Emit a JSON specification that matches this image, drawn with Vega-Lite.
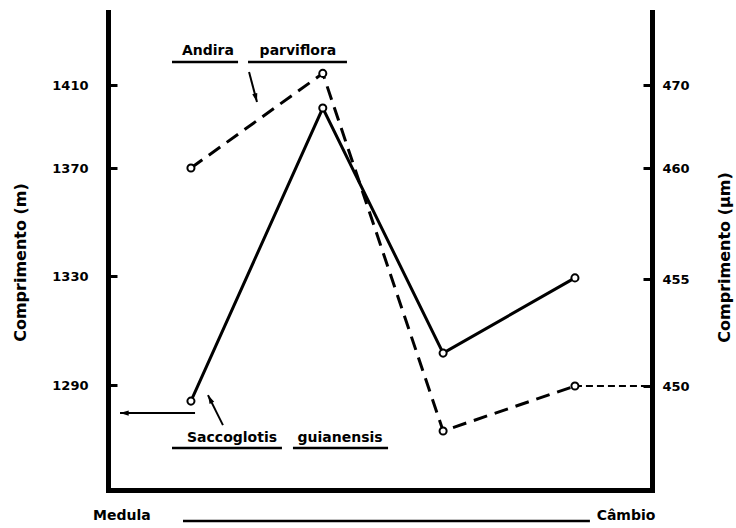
{
  "$schema": "https://vega.github.io/schema/vega-lite/v6.json",
  "width": 544,
  "height": 478,
  "autosize": {"type": "none"},
  "padding": {"left": 108, "top": 12, "right": 84, "bottom": 38},
  "background": "white",
  "config": {
    "view": {"stroke": null},
    "font": "DejaVu Sans",
    "axis": {
      "domainColor": "black", "domainWidth": 5, "domainCap": "square",
      "tickColor": "black", "tickWidth": 3, "grid": false,
      "labelFont": "DejaVu Sans", "labelFontWeight": "bold", "labelFontSize": 13, "labelColor": "black",
      "titleFont": "DejaVu Sans", "titleFontWeight": "bold", "titleFontSize": 16, "titleColor": "black"
    },
    "text": {"font": "DejaVu Sans", "fontWeight": "bold", "fontSize": 14, "color": "black"}
  },
  "datasets": {
    "saccoglotis": [
      {"posicao": 1, "valor": 1284.1},
      {"posicao": 2.03, "valor": 1398.9},
      {"posicao": 2.97, "valor": 1301.7},
      {"posicao": 4, "valor": 1329.3}
    ],
    "andira": [
      {"posicao": 1, "valor": 460},
      {"posicao": 2.03, "valor": 471.4},
      {"posicao": 2.97, "valor": 447.9},
      {"posicao": 4, "valor": 450}
    ],
    "rotulos": [
      {"texto": "Andira", "posicao": 1.133, "valor": 1426.4},
      {"texto": "parviflora", "posicao": 1.836, "valor": 1426.4},
      {"texto": "Saccoglotis", "posicao": 1.321, "valor": 1270.6},
      {"texto": "guianensis", "posicao": 2.165, "valor": 1270.6},
      {"texto": "Medula", "posicao": 0.46, "valor": 1242},
      {"texto": "Câmbio", "posicao": 4.399, "valor": 1242}
    ],
    "sublinhados": [
      {"posicao": 0.852, "posicao2": 1.368, "valor": 1421.1},
      {"posicao": 1.446, "posicao2": 2.219, "valor": 1421.1},
      {"posicao": 0.852, "posicao2": 1.711, "valor": 1266.9},
      {"posicao": 1.797, "posicao2": 2.54, "valor": 1266.9},
      {"posicao": 0.938, "posicao2": 4.117, "valor": 1240.1}
    ],
    "setas": [
      {"seta": "andira", "posicao": 1.454, "valor": 1416.3, "posicao2": 1.516, "valor2": 1401.8},
      {"seta": "saccoglotis", "posicao": 1.25, "valor": 1275.3, "posicao2": 1.133, "valor2": 1286.3},
      {"seta": "eixo", "posicao": 1.032, "valor": 1279.7, "posicao2": 0.446, "valor2": 1279.7}
    ],
    "extensao": [
      {"posicao": 4, "posicao2": 4.602, "valor": 450}
    ]
  },
  "layer": [
    {
      "layer": [
        {
          "data": {"name": "saccoglotis"},
          "mark": {"type": "line", "color": "black", "strokeWidth": 3,
            "point": {"filled": false, "fill": "white", "stroke": "black", "strokeWidth": 2, "size": 50, "opacity": 1}},
          "encoding": {
            "x": {"field": "posicao", "type": "quantitative",
              "scale": {"domain": [0.352, 4.602], "nice": false, "zero": false},
              "axis": {"orient": "bottom", "ticks": false, "labels": false, "title": null, "domain": true}},
            "y": {"field": "valor", "type": "quantitative",
              "scale": {"domain": [1251.5, 1290, 1330, 1370, 1410, 1445.2], "range": [478, 373, 264, 156, 73, 0], "nice": false, "zero": false},
              "axis": {"orient": "left", "values": [1290, 1330, 1370, 1410], "format": "d", "ticks": true, "tickSize": -9, "labelPadding": 29,
                "title": "Comprimento (m)", "titleAngle": 270, "titleX": -88, "titleY": 250, "titleAlign": "center", "titleBaseline": "middle"}}
          }
        },
        {
          "data": {"name": "sublinhados"},
          "mark": {"type": "rule", "color": "black", "strokeWidth": 2.5},
          "encoding": {
            "x": {"field": "posicao", "type": "quantitative"},
            "x2": {"field": "posicao2"},
            "y": {"field": "valor", "type": "quantitative"}
          }
        },
        {
          "data": {"name": "setas"},
          "mark": {"type": "rule", "color": "black", "strokeWidth": 2},
          "encoding": {
            "x": {"field": "posicao", "type": "quantitative"},
            "x2": {"field": "posicao2"},
            "y": {"field": "valor", "type": "quantitative"},
            "y2": {"field": "valor2"}
          }
        },
        {
          "data": {"name": "setas"},
          "transform": [{"filter": "datum.seta === 'andira'"}],
          "mark": {"type": "point", "shape": "M0,0L0.3,1L-0.3,1Z", "filled": true, "color": "black", "size": 300, "angle": 165, "opacity": 1},
          "encoding": {
            "x": {"field": "posicao2", "type": "quantitative"},
            "y": {"field": "valor2", "type": "quantitative"}
          }
        },
        {
          "data": {"name": "setas"},
          "transform": [{"filter": "datum.seta === 'saccoglotis'"}],
          "mark": {"type": "point", "shape": "M0,0L0.3,1L-0.3,1Z", "filled": true, "color": "black", "size": 300, "angle": 333, "opacity": 1},
          "encoding": {
            "x": {"field": "posicao2", "type": "quantitative"},
            "y": {"field": "valor2", "type": "quantitative"}
          }
        },
        {
          "data": {"name": "setas"},
          "transform": [{"filter": "datum.seta === 'eixo'"}],
          "mark": {"type": "point", "shape": "M0,0L0.3,1L-0.3,1Z", "filled": true, "color": "black", "size": 300, "angle": 270, "opacity": 1},
          "encoding": {
            "x": {"field": "posicao2", "type": "quantitative"},
            "y": {"field": "valor2", "type": "quantitative"}
          }
        },
        {
          "data": {"name": "rotulos"},
          "mark": {"type": "text", "align": "center", "baseline": "middle"},
          "encoding": {
            "x": {"field": "posicao", "type": "quantitative"},
            "y": {"field": "valor", "type": "quantitative"},
            "text": {"field": "texto"}
          }
        }
      ]
    },
    {
      "layer": [
        {
          "data": {"name": "extensao"},
          "mark": {"type": "rule", "color": "black", "strokeWidth": 2, "strokeDash": [7, 4]},
          "encoding": {
            "x": {"field": "posicao", "type": "quantitative"},
            "x2": {"field": "posicao2"},
            "y": {"field": "valor", "type": "quantitative",
              "scale": {"domain": [445.14, 450, 455, 460, 470, 478.8], "range": [478, 374, 267, 156, 73, 0], "nice": false, "zero": false},
              "axis": {"orient": "right", "values": [450, 455, 460, 470], "format": "d", "ticks": true, "tickSize": -9, "labelPadding": 19,
                "title": "Comprimento (µm)", "titleAngle": 270, "titleX": 72, "titleY": 245, "titleAlign": "center", "titleBaseline": "middle"}}
          }
        },
        {
          "data": {"name": "andira"},
          "mark": {"type": "line", "color": "black", "strokeWidth": 3, "strokeDash": [14, 8],
            "point": {"filled": false, "fill": "white", "stroke": "black", "strokeWidth": 2, "size": 50, "opacity": 1}},
          "encoding": {
            "x": {"field": "posicao", "type": "quantitative"},
            "y": {"field": "valor", "type": "quantitative"}
          }
        }
      ]
    }
  ],
  "resolve": {"scale": {"y": "independent"}, "axis": {"y": "independent"}}
}
